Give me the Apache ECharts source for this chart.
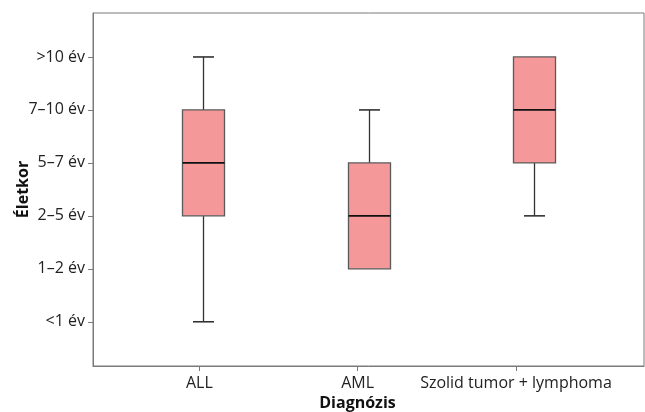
<!DOCTYPE html>
<html>
<head>
<meta charset="utf-8">
<script src="https://cdn.jsdelivr.net/npm/echarts@6/dist/echarts.min.js"></script>
<style>html,body{margin:0;padding:0;background:#fff;}#c{width:645px;height:412px;}</style>
</head>
<body>
<div id="c"></div>
<script>
// Data
const categories = ['ALL', 'AML', 'Szolid tumor + lymphoma'];
const yLabels = ['<1 év', '1–2 év', '2–5 év', '5–7 év', '7–10 év', '>10 év'];
// [min, Q1, median, Q3, max] as index into yLabels
const boxALL = [0, 2, 3, 4, 5];
const boxAML = [1, 1, 2, 3, 4];
const boxSzolid = [2, 3, 4, 5, 5];

const boxes = [boxALL, boxAML, boxSzolid];
const seriesData = boxes.map((b, i) => [i].concat(b));

const chart = echarts.init(document.getElementById('c'));
const font = 'Open Sans';
chart.setOption({
  animation: false,
  grid: { left: 93, right: 1, top: 13, bottom: 46, outerBoundsMode: 'none', containLabel: false,
    show: true, borderColor: '#7a7a7a', borderWidth: 1, backgroundColor: 'transparent' },
  xAxis: [
    { type: 'value', min: -0.665, max: 2.665, show: false, axisLine: { onZero: false } },
    {
      type: 'value', min: 0.3285, max: 3.8086, position: 'bottom',
      name: 'Diagnózis', nameLocation: 'middle', nameGap: 29, nameMoveOverlap: false,
      nameTextStyle: { fontFamily: font, fontWeight: 'bold', fontSize: 16, color: '#111', padding: [0, 22, 0, 0] },
      axisLine: { show: true, onZero: false, lineStyle: { color: '#7a7a7a' } },
      axisTick: { show: true, length: 5, customValues: [1, 2, 3], lineStyle: { color: '#7a7a7a' } },
      splitLine: { show: false },
      axisLabel: { customValues: [1, 2, 3], margin: 9, fontFamily: font, fontSize: 16, color: '#222',
        formatter: v => categories[Math.round(v) - 1] }
    }
  ],
  yAxis: {
    type: 'value', min: -0.835, max: 5.83,
    name: 'Életkor', nameLocation: 'middle', nameGap: 62, nameMoveOverlap: false,
    nameTextStyle: { fontFamily: font, fontWeight: 'bold', fontSize: 16, color: '#111' },
    axisLine: { show: true, onZero: false, lineStyle: { color: '#7a7a7a' } },
    axisTick: { show: true, length: 5, customValues: [0, 1, 2, 3, 4, 5], lineStyle: { color: '#7a7a7a' } },
    splitLine: { show: false },
    axisLabel: { customValues: [0, 1, 2, 3, 4, 5], margin: 8, fontFamily: font, fontSize: 16, color: '#222',
      formatter: v => yLabels[Math.round(v)] }
  },
  series: [{
    type: 'custom',
    xAxisIndex: 0,
    data: seriesData,
    renderItem: function (params, api) {
      const x = api.value(0);
      const mn = api.coord([x, api.value(1)]);
      const q1 = api.coord([x, api.value(2)]);
      const md = api.coord([x, api.value(3)]);
      const q3 = api.coord([x, api.value(4)]);
      const mx = api.coord([x, api.value(5)]);
      const halfW = api.size([0.254, 0])[0] / 2;
      const capW = halfW / 2;
      const cx = Math.round(mn[0]) + 0.5;
      const children = [];
      const wl = { stroke: '#333', lineWidth: 1.3 };
      if (mx[1] < q3[1] - 0.5) {
        children.push({ type: 'line', shape: { x1: cx, y1: q3[1], x2: cx, y2: mx[1] }, style: wl });
        children.push({ type: 'line', shape: { x1: cx - capW, y1: mx[1], x2: cx + capW, y2: mx[1] }, style: { stroke: '#333', lineWidth: 1.6 } });
      }
      if (mn[1] > q1[1] + 0.5) {
        children.push({ type: 'line', shape: { x1: cx, y1: q1[1], x2: cx, y2: mn[1] }, style: wl });
        children.push({ type: 'line', shape: { x1: cx - capW, y1: mn[1], x2: cx + capW, y2: mn[1] }, style: { stroke: '#333', lineWidth: 1.6 } });
      }
      children.push({ type: 'rect', shape: { x: cx - halfW, y: q3[1], width: halfW * 2, height: q1[1] - q3[1] },
        style: { fill: '#f4989a', stroke: '#5a5a5a', lineWidth: 1.3 } });
      children.push({ type: 'line', shape: { x1: cx - halfW, y1: md[1], x2: cx + halfW, y2: md[1] }, style: { stroke: '#111', lineWidth: 1.8 } });
      return { type: 'group', children: children };
    }
  }]
});
</script>
</body>
</html>
